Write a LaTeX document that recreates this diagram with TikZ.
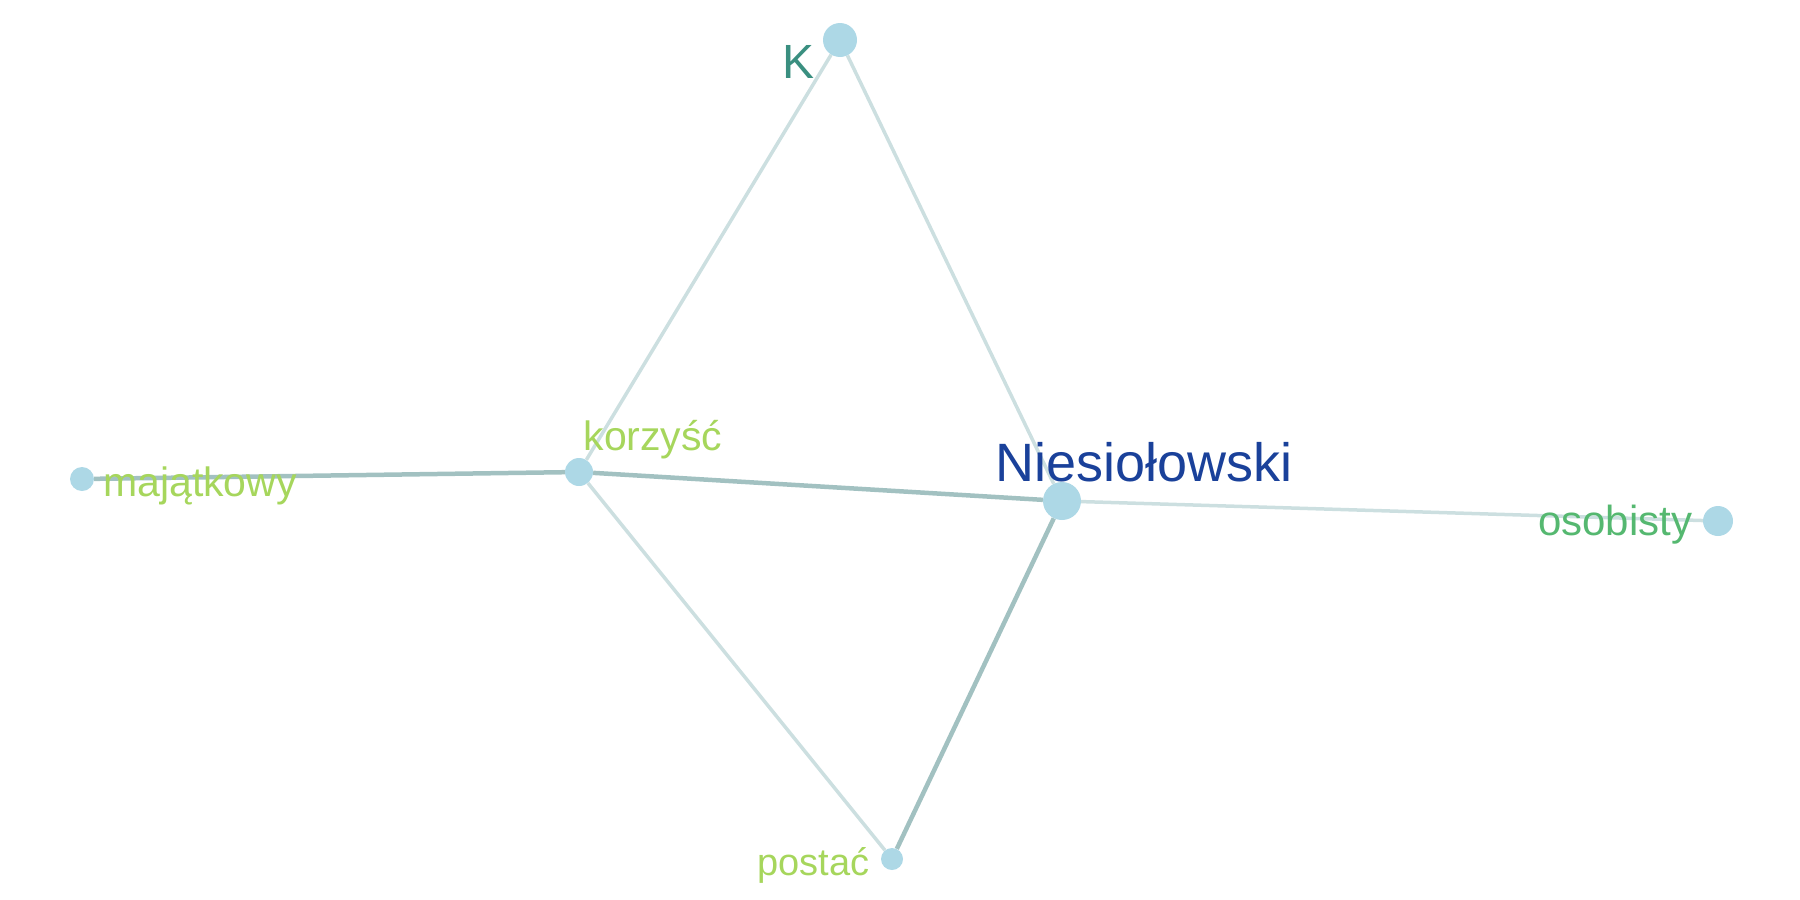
\documentclass[tikz,border=0pt]{standalone}
\usepackage{fontspec}
\setmainfont{Liberation Sans}
\usetikzlibrary{backgrounds}
\definecolor{nodefill}{HTML}{ADD8E6}
\definecolor{edgelight}{HTML}{CCDFE0}
\definecolor{edgedark}{HTML}{A2C1C1}
\definecolor{lblteal}{HTML}{3A8F80}
\definecolor{lblgreen}{HTML}{A6D65C}
\definecolor{lblblue}{HTML}{1A419A}
\definecolor{lblmid}{HTML}{55B870}
\tikzset{
  vert/.style={circle,fill=nodefill,inner sep=0pt,minimum size=#1},
  lbl/.style={inner sep=0pt,font=\fontsize{#1}{#1}\selectfont},
  elight/.style={draw=edgelight,line width=3.5pt},
  edark/.style={draw=edgedark,line width=4.5pt},
}
\begin{document}
\begin{tikzpicture}[x=1pt,y=-1pt]
\useasboundingbox (0,0) rectangle (1800,900);
\node[vert=34pt] (K) at (840,40) {};
\node[vert=28pt] (kor) at (579,472) {};
\node[vert=24pt] (maj) at (82,479) {};
\node[vert=38pt] (nie) at (1062,501) {};
\node[vert=30pt] (oso) at (1718,521) {};
\node[vert=22pt] (pos) at (892,859) {};
\begin{scope}[on background layer]
\draw[elight] (K) -- (kor);
\draw[elight] (K) -- (nie);
\draw[elight] (kor) -- (pos);
\draw[elight] (nie) -- (oso);
\draw[edark] (maj) -- (kor);
\draw[edark] (kor) -- (nie);
\draw[edark] (nie) -- (pos);
\end{scope}
\node[lbl=48,text=lblteal,anchor=base west] (tK) at (782,78) {K};
\node[lbl=41,text=lblgreen,anchor=base] (tkor) at (653,450) {korzyść};
\node[lbl=41,text=lblgreen,anchor=base west] (tmaj) at (103,496) {majątkowy};
\node[lbl=54,text=lblblue,anchor=base] (tnie) at (1144,481) {Niesiołowski};
\node[lbl=42,text=lblmid,anchor=base west] (toso) at (1538,535) {osobisty};
\node[lbl=38,text=lblgreen,anchor=base west] (tpos) at (757,875) {postać};
\end{tikzpicture}
\end{document}
